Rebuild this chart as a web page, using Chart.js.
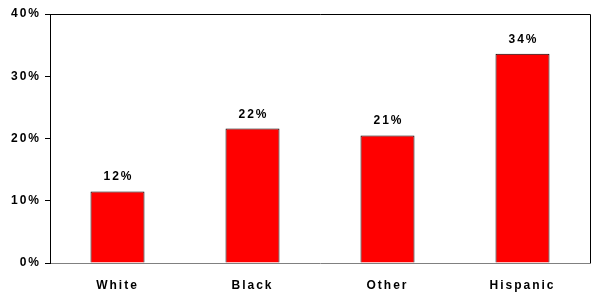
<!DOCTYPE html>
<html>
<head>
<meta charset="utf-8">
<script src="https://cdn.jsdelivr.net/npm/chart.js@4"></script>
<style>
html,body{margin:0;padding:0;background:#fff;}
#wrap{width:600px;height:300px;position:relative;}
</style>
</head>
<body>
<div id="wrap"><canvas id="c" width="600" height="300"></canvas></div>
<script>
const categories = ['White', 'Black', 'Other', 'Hispanic'];
const values = [11.5, 21.6, 20.5, 33.6];
const valueLabels = ['12%', '22%', '21%', '34%'];
const yTicks = [0, 10, 20, 30, 40];

const FONT = {family: 'Liberation Sans, Arial, sans-serif', size: 12, weight: 'bold'};
const SPACING = '2px';

const spacingPlugin = {
  id: 'spacing',
  beforeUpdate(chart) { chart.ctx.letterSpacing = SPACING; },
  beforeLayout(chart) { chart.ctx.letterSpacing = SPACING; },
  beforeDraw(chart) { chart.ctx.letterSpacing = SPACING; }
};

const framePlugin = {
  id: 'frame',
  afterDraw(chart) {
    const {ctx, chartArea: a} = chart;
    ctx.save();
    ctx.strokeStyle = '#000';
    ctx.lineWidth = 1;
    ctx.setLineDash([]);
    ctx.beginPath();
    ctx.moveTo(a.left, a.top + 0.5);
    ctx.lineTo(a.right + 0.5, a.top + 0.5);
    ctx.lineTo(a.right + 0.5, a.bottom);
    ctx.stroke();
    ctx.restore();
  }
};

const labelPlugin = {
  id: 'vlabels',
  afterDatasetsDraw(chart) {
    const {ctx} = chart;
    const meta = chart.getDatasetMeta(0);
    ctx.save();
    ctx.letterSpacing = SPACING;
    ctx.font = 'bold 12px Liberation Sans, Arial, sans-serif';
    ctx.fillStyle = '#000';
    ctx.textAlign = 'center';
    ctx.textBaseline = 'alphabetic';
    meta.data.forEach((bar, i) => {
      ctx.fillText(valueLabels[i], bar.x + 1, bar.y - 11);
    });
    ctx.restore();
  }
};

new Chart(document.getElementById('c'), {
  type: 'bar',
  data: {
    labels: categories,
    datasets: [{
      data: values,
      backgroundColor: '#ff0000',
      borderColor: '#000000',
      borderWidth: 1,
      borderSkipped: 'bottom',
      barPercentage: 0.4,
      categoryPercentage: 1.0
    }]
  },
  options: {
    responsive: false,
    animation: false,
    devicePixelRatio: 1,
    layout: {padding: {top: 14, right: 10, left: 0, bottom: 0}},
    plugins: {legend: {display: false}, tooltip: {enabled: false}},
    scales: {
      x: {
        grid: {display: false, drawTicks: false},
        border: {display: true, color: '#808080', width: 1, dash: [2, 1]},
        ticks: {font: FONT, color: '#000', padding: 15, maxRotation: 0},
        afterFit(s) { s.height = 37; }
      },
      y: {
        min: 0, max: 40,
        afterBuildTicks(s) { s.ticks = yTicks.map(v => ({value: v})); },
        grid: {drawOnChartArea: false, drawTicks: true, tickLength: 5, color: '#000'},
        border: {display: true, color: '#000', width: 1, dash: [1, 1]},
        ticks: {font: FONT, color: '#000', padding: 4, callback: v => v + '%'},
        afterFit(s) { s.width = 50; }
      }
    }
  },
  plugins: [spacingPlugin, framePlugin, labelPlugin]
});
</script>
</body>
</html>
